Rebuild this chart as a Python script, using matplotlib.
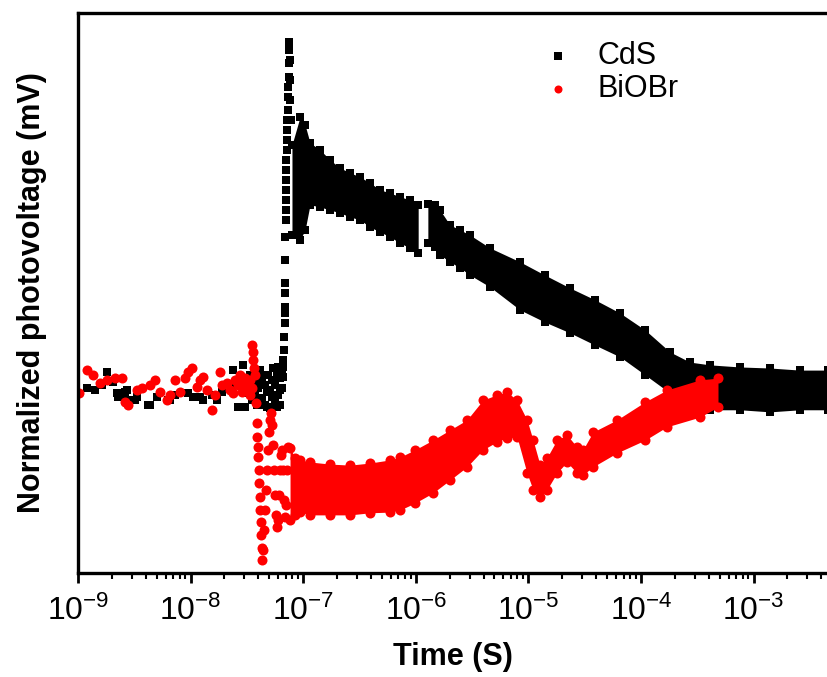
import matplotlib
matplotlib.use("Agg")
import matplotlib.pyplot as plt

plt.rcParams['font.family'] = ['Liberation Sans', 'DejaVu Sans']
plt.rcParams['mathtext.fontset'] = 'custom'
plt.rcParams['mathtext.rm'] = 'Liberation Sans'
plt.rcParams['mathtext.it'] = 'Liberation Sans:italic'
plt.rcParams['mathtext.bf'] = 'Liberation Sans:bold'

# ---- CdS (black squares) ----
# scattered points before the rise (time in s, normalized signal)
cds_pre_t = [1.20e-9, 1.42e-9, 1.63e-9, 1.81e-9, 2.05e-9, 2.22e-9, 2.27e-9, 2.46e-9, 2.61e-9, 2.72e-9,
             2.90e-9, 3.21e-9, 3.34e-9, 4.19e-9, 4.36e-9, 5.03e-9, 6.30e-9, 6.56e-9, 7.27e-9, 9.48e-9,
             1.05e-8, 1.21e-8, 1.29e-8, 1.55e-8, 1.72e-8, 1.90e-8, 2.33e-8, 2.38e-8, 2.64e-8, 2.92e-8,
             3.04e-8, 3.24e-8, 3.37e-8, 3.51e-8, 3.73e-8, 3.73e-8, 3.89e-8, 3.97e-8, 4.13e-8, 4.13e-8,
             4.31e-8, 4.31e-8, 4.58e-8, 4.58e-8, 4.77e-8, 4.77e-8, 4.87e-8, 5.07e-8, 5.07e-8, 5.28e-8,
             5.28e-8, 5.39e-8, 5.62e-8, 5.62e-8, 5.85e-8, 5.85e-8, 5.97e-8, 5.97e-8, 6.22e-8, 6.22e-8,
             6.22e-8, 6.48e-8, 6.48e-8, 6.62e-8]
cds_pre_y = [0.006, 0.000, 0.014, 0.052, 0.023, -0.009, -0.020, -0.020, -0.006, 0.000,
             -0.029, -0.029, -0.020, -0.043, -0.043, -0.020, -0.029, -0.029, -0.014, -0.009,
             -0.020, -0.020, -0.029, -0.014, -0.029, -0.006, 0.006, 0.057, -0.049, 0.072,
             -0.049, -0.009, 0.043, -0.029, 0.020, -0.014, -0.043, 0.006, 0.057, 0.020,
             0.037, -0.023, 0.014, -0.043, 0.000, -0.049, 0.043, -0.006, -0.052, -0.020,
             0.029, 0.063, -0.029, 0.014, -0.049, 0.052, 0.066, -0.014, 0.000, 0.034,
             -0.043, 0.006, 0.057, 0.086]

# the fast rise to the peak
cds_rise_t = [6.62e-8, 6.62e-8, 6.75e-8, 6.75e-8, 6.89e-8, 6.89e-8, 6.89e-8, 6.89e-8, 6.89e-8, 6.89e-8,
              6.89e-8, 7.03e-8, 7.03e-8, 7.03e-8, 7.03e-8, 7.03e-8, 7.03e-8, 7.03e-8, 7.18e-8, 7.18e-8,
              7.18e-8, 7.18e-8, 7.33e-8, 7.33e-8, 7.33e-8, 7.48e-8, 7.48e-8, 7.48e-8, 7.48e-8, 7.64e-8,
              7.64e-8, 7.64e-8, 7.79e-8]
cds_rise_y = [0.037, 0.066, 0.115, 0.152, 0.193, 0.221, 0.239, 0.279, 0.307, 0.374,
              0.440, 0.489, 0.517, 0.546, 0.575, 0.603, 0.632, 0.661, 0.690, 0.718,
              0.747, 0.776, 0.805, 0.842, 0.871, 0.899, 0.940, 0.977, 1.000, 0.948,
              0.891, 0.833, 0.776]

# dense decay band (upper / lower edge), two pieces around the gap near 1e-6 s
cds_band1_t = [7.95e-8, 9.37e-8, 1.04e-7, 1.15e-7, 1.41e-7, 1.73e-7, 2.12e-7, 2.61e-7, 3.19e-7, 3.92e-7,
               4.81e-7, 5.90e-7, 7.24e-7, 8.88e-7, 1.05e-6]
cds_band1_hi = [0.704, 0.784, 0.761, 0.710, 0.690, 0.661, 0.638, 0.624, 0.612, 0.595,
                0.575, 0.566, 0.555, 0.546, 0.532]
cds_band1_lo = [0.445, 0.431, 0.460, 0.532, 0.526, 0.517, 0.509, 0.497, 0.489, 0.468,
                0.454, 0.440, 0.422, 0.408, 0.394]
cds_band2_t = [1.28e-6, 1.48e-6, 1.64e-6, 2.01e-6, 2.47e-6, 3.03e-6, 4.56e-6, 8.42e-6, 1.40e-5, 2.34e-5,
               3.90e-5, 6.51e-5, 1.09e-4, 1.81e-4, 2.72e-4, 4.10e-4, 7.57e-4, 1.40e-3, 2.58e-3, 4.58e-3]
cds_band2_hi = [0.534, 0.532, 0.517, 0.474, 0.460, 0.445, 0.408, 0.368, 0.330, 0.293,
                0.259, 0.221, 0.172, 0.109, 0.080, 0.072, 0.066, 0.063, 0.057, 0.057]
cds_band2_lo = [0.422, 0.411, 0.388, 0.368, 0.351, 0.330, 0.296, 0.230, 0.195, 0.164,
                0.129, 0.095, 0.043, -0.009, -0.043, -0.057, -0.057, -0.063, -0.057, -0.057]

# ---- BiOBr (red circles) ----
bio_pre_t = [1.02e-9, 1.20e-9, 1.36e-9, 1.57e-9, 1.81e-9, 2.13e-9, 2.46e-9, 2.61e-9, 2.78e-9, 3.34e-9,
             3.70e-9, 4.36e-9, 4.83e-9, 5.35e-9, 6.17e-9, 6.56e-9, 7.27e-9, 8.05e-9, 8.92e-9, 9.48e-9,
             1.03e-8, 1.14e-8, 1.21e-8, 1.29e-8, 1.40e-8, 1.55e-8, 1.65e-8, 1.82e-8, 1.90e-8, 2.10e-8,
             2.24e-8, 2.38e-8, 2.48e-8, 2.64e-8, 2.75e-8, 2.86e-8, 2.92e-8, 3.04e-8, 3.17e-8, 3.24e-8,
             3.37e-8, 3.37e-8, 3.51e-8]
bio_pre_y = [-0.009, 0.057, 0.043, 0.020, 0.029, 0.034, 0.034, -0.034, -0.043, 0.000,
             0.006, 0.014, 0.029, -0.006, -0.029, -0.014, 0.029, -0.006, 0.034, 0.052,
             0.063, 0.009, 0.029, 0.037, 0.000, -0.057, -0.014, 0.052, 0.014, 0.020,
             0.000, -0.009, 0.029, 0.014, 0.043, -0.006, 0.020, 0.034, 0.000, 0.014,
             0.029, -0.014, 0.006]

# ringing after the excitation
bio_osc_t = [3.51e-8, 3.58e-8, 3.58e-8, 3.66e-8, 3.73e-8, 3.81e-8, 3.89e-8, 3.89e-8, 3.97e-8, 3.97e-8,
             4.05e-8, 4.05e-8, 4.13e-8, 4.13e-8, 4.22e-8, 4.22e-8, 4.31e-8, 4.31e-8, 4.40e-8, 4.49e-8,
             4.58e-8, 4.67e-8, 4.77e-8, 4.87e-8, 4.97e-8, 5.07e-8, 5.18e-8, 5.28e-8, 5.39e-8, 5.50e-8,
             5.62e-8, 5.73e-8, 5.85e-8, 5.97e-8, 6.10e-8, 6.22e-8, 6.35e-8, 6.48e-8, 6.62e-8, 6.75e-8,
             6.89e-8, 7.03e-8, 7.18e-8, 7.33e-8]
bio_osc_y = [0.129, 0.109, 0.086, 0.063, 0.043, -0.037, -0.095, -0.135, -0.164, -0.193,
             -0.230, -0.267, -0.307, -0.345, -0.379, -0.417, -0.454, -0.489, -0.460, -0.402,
             -0.345, -0.287, -0.230, -0.172, -0.121, -0.086, -0.066, -0.101, -0.158, -0.230,
             -0.302, -0.359, -0.394, -0.374, -0.302, -0.230, -0.187, -0.172, -0.230, -0.316,
             -0.365, -0.330, -0.230, -0.164]

# dense recovery band (upper / lower edge)
bio_band_t = [7.64e-8, 8.46e-8, 9.37e-8, 1.15e-7, 1.73e-7, 2.61e-7, 3.92e-7, 5.90e-7, 7.24e-7, 9.84e-7,
              1.42e-6, 2.01e-6, 2.85e-6, 3.95e-6, 5.26e-6, 6.46e-6, 7.92e-6, 9.72e-6, 1.10e-5, 1.27e-5,
              1.46e-5, 1.79e-5, 2.20e-5, 2.70e-5, 3.05e-5, 3.75e-5, 6.12e-5, 1.09e-4, 1.70e-4, 3.34e-4,
              4.83e-4]
bio_band_hi = [-0.167, -0.195, -0.201, -0.207, -0.213, -0.216, -0.210, -0.201, -0.193, -0.172,
               -0.144, -0.115, -0.086, -0.029, -0.014, -0.006, -0.029, -0.086, -0.144, -0.216,
               -0.195, -0.144, -0.129, -0.164, -0.172, -0.121, -0.086, -0.034, 0.000, 0.029,
               0.034]
bio_band_lo = [-0.374, -0.359, -0.351, -0.359, -0.359, -0.359, -0.353, -0.351, -0.345, -0.325,
               -0.296, -0.259, -0.221, -0.172, -0.149, -0.138, -0.135, -0.239, -0.287, -0.307,
               -0.287, -0.239, -0.207, -0.239, -0.244, -0.221, -0.181, -0.144, -0.106, -0.078,
               -0.049]

fig = plt.figure(figsize=(8.28, 6.77), dpi=100)
ax = fig.add_axes([0.0942, 0.1536, 0.9058, 0.8272])

sq = dict(marker='s', s=40, color='black', linewidths=0)
dot = dict(marker='o', s=52, color='red', linewidths=0)

# CdS
ax.fill_between(cds_band1_t, cds_band1_lo, cds_band1_hi, color='black', lw=0)
ax.fill_between(cds_band2_t, cds_band2_lo, cds_band2_hi, color='black', lw=0)
ax.scatter(cds_band1_t + cds_band1_t, cds_band1_hi + cds_band1_lo, **sq)
ax.scatter(cds_band2_t + cds_band2_t, cds_band2_hi + cds_band2_lo, **sq)
ax.scatter(cds_rise_t, cds_rise_y, **sq)
ax.scatter(cds_pre_t, cds_pre_y, label='CdS', **sq)

# BiOBr
ax.fill_between(bio_band_t, bio_band_lo, bio_band_hi, color='red', lw=0)
ax.scatter(bio_band_t + bio_band_t, bio_band_hi + bio_band_lo, **dot)
ax.scatter(bio_osc_t, bio_osc_y, **dot)
ax.scatter(bio_pre_t, bio_pre_y, label='BiOBr', **dot)

ax.set_xscale('log')
ax.set_xlim(1e-9, 4.58e-3)
ax.set_ylim(-0.526, 1.083)
ax.set_yticks([])

for side in ['left', 'top', 'bottom']:
    ax.spines[side].set_linewidth(2.4)
ax.spines['right'].set_visible(False)

ax.tick_params(axis='x', which='major', direction='out', length=7, width=2, labelsize=23, pad=9)
ax.tick_params(axis='x', which='minor', direction='out', length=4, width=1.5)

ax.set_xlabel('Time (S)', fontsize=22, fontweight='bold', labelpad=11)
ax.set_ylabel('Normalized photovoltage (mV)', fontsize=22, fontweight='bold', labelpad=22)

ax.legend(loc='upper left', bbox_to_anchor=(0.62, 0.95), frameon=False, fontsize=22,
          scatterpoints=1, handlelength=1.0, handletextpad=0.8, labelspacing=0.1,
          borderpad=0, borderaxespad=0, markerscale=0.8)

fig.savefig('out.png', dpi=100)
